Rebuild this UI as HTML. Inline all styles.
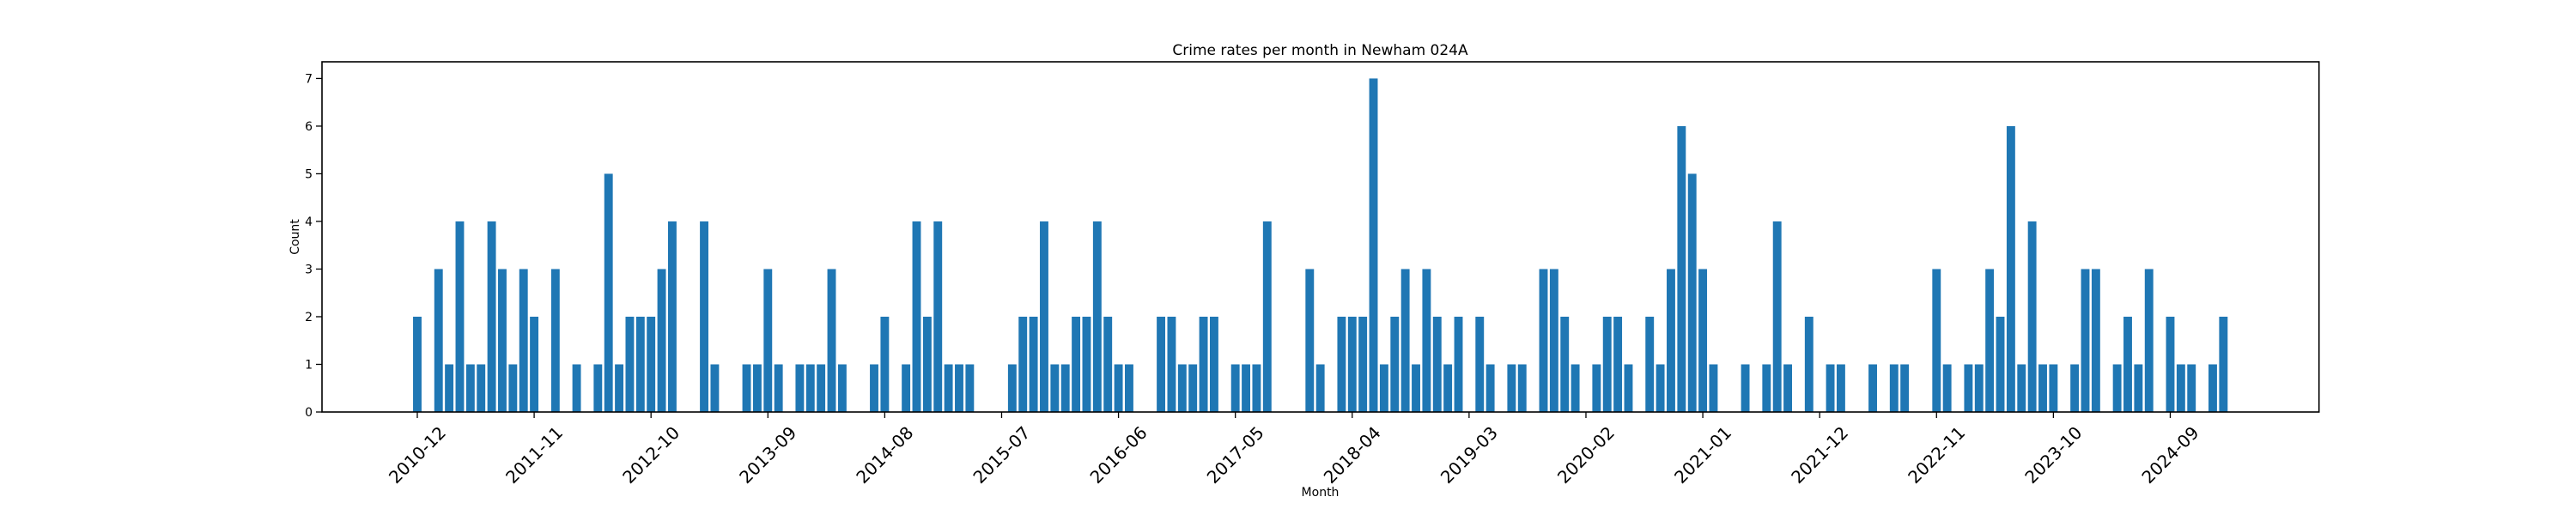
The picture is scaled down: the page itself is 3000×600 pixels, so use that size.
<!DOCTYPE html>
<html>
<head>
<meta charset="utf-8">
<style>
  html, body { margin: 0; padding: 0; background: #fff; }
  svg { display: block; font-family: "DejaVu Sans", "Liberation Sans", sans-serif; }
</style>
</head>
<body>
<svg id="chart" width="3000" height="600" viewBox="0 0 3000 600" xmlns="http://www.w3.org/2000/svg">
  <rect x="0" y="0" width="3000" height="600" fill="#ffffff"/>
  <g id="bars"></g>
  <g id="yticks"></g>
  <g id="xticks"></g>
  <rect x="375" y="72" width="2325.7" height="408" fill="none" stroke="#000" stroke-width="1.6"/>
  <text x="1537.5" y="64" font-size="17" text-anchor="middle" fill="#000">Crime rates per month in Newham 024A</text>
  <text x="1537.5" y="578" font-size="14" text-anchor="middle" fill="#000">Month</text>
  <text x="348" y="276" font-size="14" text-anchor="middle" fill="#000" transform="rotate(-90 348 276)">Count</text>
</svg>
<script>
const startYear = 2010;
const startMonth = 12;
const counts = [
  2,0,3,1,4,1,1,4,3,1,3,2,0,3,0,1,0,1,5,1,2,2,2,3,4,0,0,4,1,
  0,0,1,1,3,1,0,1,1,1,3,1,0,0,1,2,0,1,4,2,4,1,1,1,0,0,0,1,2,2,4,1,1,
  2,2,4,2,1,1,0,0,2,2,1,1,2,2,0,1,1,1,4,0,0,0,3,1,0,2,2,2,7,1,2,3,
  1,3,2,1,2,0,2,1,0,1,1,0,3,3,2,1,0,1,2,2,1,0,2,1,3,6,5,3,1,0,0,1,
  0,1,4,1,0,2,0,1,1,0,0,1,0,1,1,0,0,3,1,0,1,1,3,2,6,1,4,1,1,0,1,3,3,0,1,2,1,3,0,2,1,1,0,1,2
];
const yTickValues = [0,1,2,3,4,5,6,7];
const xTickEvery = 11;

const NS = "http://www.w3.org/2000/svg";
const plotLeft = 375, plotRight = 2700.7, plotTop = 72, plotBottom = 480;
const xMin = -8.97, xMax = 179.0;
const yMin = 0, yMax = 7.35;
const barWidth = 0.8;

function xScale(v) { return plotLeft + (v - xMin) / (xMax - xMin) * (plotRight - plotLeft); }
function yScale(v) { return plotBottom - (v - yMin) / (yMax - yMin) * (plotBottom - plotTop); }
function monthLabel(i) {
  const total = startYear * 12 + (startMonth - 1) + i;
  const y = Math.floor(total / 12), m = total % 12 + 1;
  return y + "-" + (m < 10 ? "0" + m : "" + m);
}

const barsG = document.getElementById("bars");
counts.forEach(function (c, i) {
  if (c <= 0) return;
  const r = document.createElementNS(NS, "rect");
  const x0 = xScale(i - barWidth / 2), x1 = xScale(i + barWidth / 2);
  r.setAttribute("x", x0);
  r.setAttribute("width", x1 - x0);
  r.setAttribute("y", yScale(c));
  r.setAttribute("height", yScale(0) - yScale(c));
  r.setAttribute("fill", "#1f77b4");
  
  
  barsG.appendChild(r);
});

const yG = document.getElementById("yticks");
yTickValues.forEach(function (v) {
  const y = yScale(v);
  const l = document.createElementNS(NS, "line");
  l.setAttribute("x1", plotLeft - 7); l.setAttribute("x2", plotLeft);
  l.setAttribute("y1", y); l.setAttribute("y2", y);
  l.setAttribute("stroke", "#000"); l.setAttribute("stroke-width", "1.3");
  
  
  yG.appendChild(l);
  const t = document.createElementNS(NS, "text");
  t.setAttribute("x", plotLeft - 11); t.setAttribute("y", y + 5);
  t.setAttribute("font-size", "14"); t.setAttribute("text-anchor", "end");
  t.textContent = v;
  
  
  yG.appendChild(t);
});

const xG = document.getElementById("xticks");
for (let i = 0; i < counts.length; i += xTickEvery) {
  const x = xScale(i);
  const l = document.createElementNS(NS, "line");
  l.setAttribute("x1", x); l.setAttribute("x2", x);
  l.setAttribute("y1", plotBottom); l.setAttribute("y2", plotBottom + 7);
  l.setAttribute("stroke", "#000"); l.setAttribute("stroke-width", "1.3");
  
  
  xG.appendChild(l);
  const t = document.createElementNS(NS, "text");
  const cy = 530;
  t.setAttribute("x", x); t.setAttribute("y", cy + 7);
  t.setAttribute("font-size", "20"); t.setAttribute("text-anchor", "middle");
  t.setAttribute("transform", "rotate(-45 " + x + " " + cy + ")");
  t.textContent = monthLabel(i);
  
  
  xG.appendChild(t);
}
</script>
</body>
</html>
